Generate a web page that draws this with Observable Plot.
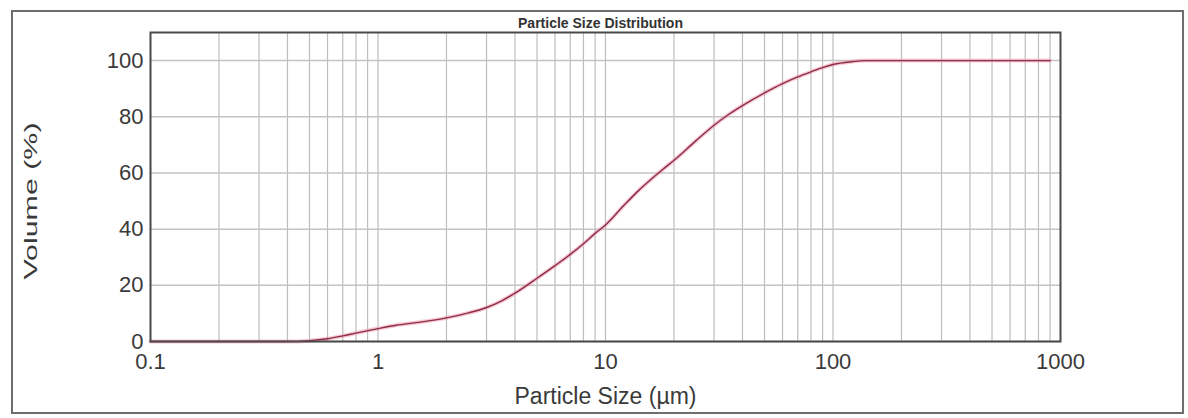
<!DOCTYPE html>
<html><head><meta charset="utf-8">
<script src="https://cdn.jsdelivr.net/npm/d3@7"></script>
<script src="https://cdn.jsdelivr.net/npm/@observablehq/plot@0.6"></script>
<style>
body{margin:0;background:#fff;}
#wrap{position:relative;width:1188px;height:418px;}
svg{font-family:"Liberation Sans",Arial,sans-serif;}
</style></head><body><div id="wrap"></div>
<script>
// Data
const sizes   = [0.1, 0.2, 0.3, 0.4, 0.5, 0.6, 0.7, 0.8, 1.0, 1.2, 1.5, 2.0, 2.5, 3.0, 3.5, 4.0, 5.0, 6.0, 7.0, 8.0, 9.0, 10, 12, 14, 16, 18, 20, 25, 30, 35, 40, 50, 60, 70, 80, 90, 100, 120, 140, 200, 300, 500, 900];
const volumes = [0,   0,   0,   0,   0.3, 1.0, 2.0, 3.0, 4.6, 5.8, 6.8, 8.4, 10.2, 12.1, 14.5, 17.2, 22.5, 27, 31, 34.8, 38.5, 41.5, 48.3, 53.8, 58, 61.5, 64.5, 71.5, 77, 81, 84, 88.5, 91.8, 94.2, 96, 97.5, 98.6, 99.6, 100, 100, 100, 100, 100];
const xTicks = [0.1, 1, 10, 100, 1000];
const xTickLabels = ["0.1", "1", "10", "100", "1000"];
const yTicks = [0, 20, 40, 60, 80, 100];
const decades = [0.1, 1, 10, 100];
const multipliers = [1, 2, 3, 4, 5, 6, 7, 8, 9];
const title = "Particle Size Distribution";
const xLabel = "Particle Size (µm)";
const yLabel = "Volume (%)";

const rows = sizes.map((s, i) => ({size: s, volume: volumes[i]}));
const minorGrid = decades.flatMap(d => multipliers.map(m => +(d * m).toPrecision(3)));
const xLabelMap = new Map(xTicks.map((t, i) => [t, xTickLabels[i]]));

const chart = Plot.plot({
  width: 1188,
  height: 418,
  marginLeft: 150,
  marginRight: 128,
  marginTop: 32,
  marginBottom: 77,
  style: {fontFamily: '"Liberation Sans", Arial, sans-serif', background: "#fff"},
  x: {type: "log", domain: [0.1, 1000]},
  y: {domain: [0, 110]},
  marks: [
    Plot.ruleX(minorGrid, {stroke: "#bdbdbd", strokeWidth: 1.2, strokeOpacity: 1}),
    Plot.ruleY(yTicks, {stroke: "#c4c4c4", strokeWidth: 1.5, strokeOpacity: 1}),
    Plot.line(rows, {x: "size", y: "volume", curve: "monotone-x", stroke: "#ee9aae", strokeWidth: 4, strokeOpacity: 0.55}),
    Plot.line(rows, {x: "size", y: "volume", curve: "monotone-x", stroke: "#8c2d47", strokeWidth: 1.4}),
    Plot.frame({stroke: "#4a4a4a", strokeWidth: 2}),
    Plot.axisX({ticks: xTicks, tickSize: 0, tickPadding: 12, fontSize: 22, fill: "#3a3a3a", tickFormat: d => xLabelMap.get(d) ?? String(d), label: null}),
    Plot.axisY({ticks: yTicks, tickSize: 0, tickPadding: 7, fontSize: 22, fill: "#3a3a3a", label: null}),
    Plot.text([xLabel], {frameAnchor: "bottom", dy: 62, fontSize: 23, fill: "#3a3a3a"}),
    Plot.text([yLabel], {frameAnchor: "left", textAnchor: "middle", dx: -120, dy: 14, rotate: -90, fontSize: 19, fill: "#3a3a3a", className: "ylab"}),
    Plot.text([title], {frameAnchor: "top", dx: -5, dy: -14, fontSize: 14, fontWeight: "bold", fill: "#333"})
  ]
});

// stretch the y label along its length, as in the reference
d3.select(chart).selectAll(".ylab text").attr("transform", function() {
  const t = d3.select(this).attr("transform") || "";
  return t + " scale(1.6,1)";
});

// outer border of the report panel
d3.select(chart).append("rect")
  .attr("x", 12).attr("y", 11).attr("width", 1171).attr("height", 402)
  .attr("fill", "none").attr("stroke", "#6e6e6e").attr("stroke-width", 2);

document.getElementById("wrap").appendChild(chart);
</script>
</body></html>
